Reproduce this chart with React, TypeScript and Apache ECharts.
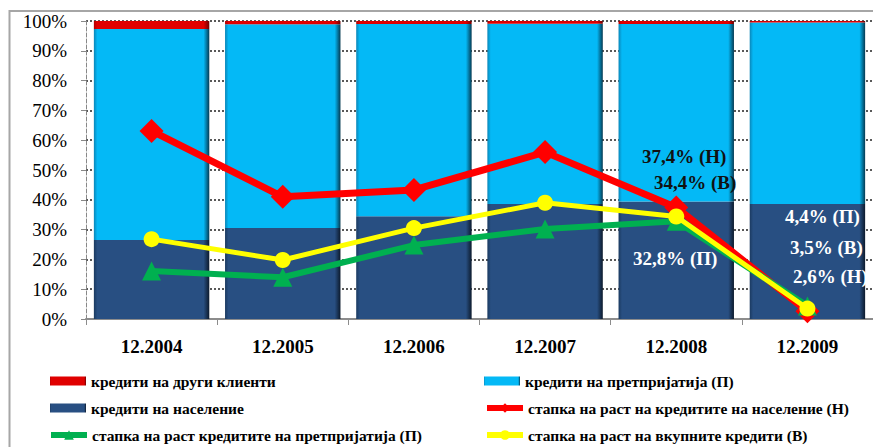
import React, { useEffect, useRef } from "react";
import * as echarts from "echarts";

const categories = ["12.2004", "12.2005", "12.2006", "12.2007", "12.2008", "12.2009"];
const householdShare = [26.5, 30.5, 34.5, 38.6, 39.4, 38.6];
const enterpriseShare = [70.8, 68.4, 64.5, 60.5, 59.6, 60.9];
const otherShare = [2.7, 1.1, 1.0, 0.9, 1.0, 0.5];
const householdGrowth = [63.1, 41.0, 43.3, 56.0, 37.4, 2.6];
const enterpriseGrowth = [16.1, 14.0, 24.8, 30.2, 32.8, 4.4];
const totalGrowth = [26.8, 19.8, 30.5, 39.0, 34.4, 3.5];
const yTicks = [0, 10, 20, 30, 40, 50, 60, 70, 80, 90, 100];

const names = {
  other: "кредити на други клиенти",
  ent: "кредити на претпријатија (П)",
  hh: "кредити на население",
  hhG: "стапка на раст на кредитите на население (Н)",
  entG: "стапка на раст кредитите на претпријатија (П)",
  totG: "стапка на раст на вкупните кредити (В)",
};

const annotations = [
  { text: "37,4% (Н)", x: 642, y: 156, fill: "#111" },
  { text: "34,4% (В)", x: 654, y: 182, fill: "#111" },
  { text: "32,8% (П)", x: 633, y: 258, fill: "#fff" },
  { text: "4,4% (П)", x: 785, y: 216, fill: "#fff" },
  { text: "3,5% (В)", x: 790, y: 247, fill: "#fff" },
  { text: "2,6% (Н)", x: 793, y: 276, fill: "#fff" },
];

const serif = "'Liberation Serif', 'Times New Roman', serif";

function grad(edge: string, main: string, dark: string) {
  return new echarts.graphic.LinearGradient(0, 0, 1, 0, [
    { offset: 0, color: edge },
    { offset: 0.03, color: main },
    { offset: 0.95, color: main },
    { offset: 1, color: dark },
  ]);
}

export default function App() {
  const ref = useRef<HTMLDivElement>(null);
  useEffect(() => {
    if (!ref.current) return;
    const chart = echarts.init(ref.current, null, { renderer: "svg" });
    const legendText = { fontFamily: serif, fontWeight: "bold" as const, fontSize: 15.5, color: "#000" };
    const legendBase = { padding: 0, itemWidth: 36, itemHeight: 9, itemGap: 0, textStyle: legendText, selectedMode: false };
    const lineLegend = { ...legendBase, itemHeight: 12, lineStyle: { width: 6 } };
    chart.setOption({
      animation: false,
      backgroundColor: "#fff",
      grid: { left: 86, top: 21, right: -12, bottom: 128, containLabel: false },
      xAxis: {
        type: "category",
        data: categories,
        axisLine: { lineStyle: { color: "#8c8c8c", width: 2 } },
        axisTick: { show: true, length: 6, lineStyle: { color: "#8c8c8c" } },
        axisLabel: { fontFamily: serif, fontWeight: "bold", fontSize: 19, color: "#000", margin: 18 },
      },
      yAxis: {
        type: "value",
        min: 0,
        max: 100,
        interval: 10,
        axisLine: { show: true, lineStyle: { color: "#888", type: "dashed" } },
        axisTick: { show: true, length: 5, lineStyle: { color: "#888" } },
        axisLabel: {
          fontFamily: serif,
          fontSize: 19,
          color: "#000",
          margin: 19,
          formatter: (v: number) => (yTicks.includes(v) ? v + "%" : ""),
        },
        splitLine: { show: true, lineStyle: { color: "#222", type: [2, 2], width: 1.5 } },
      },
      legend: [
        { ...legendBase, left: 50, top: 373, data: [{ name: names.other, icon: "rect" }] },
        { ...legendBase, left: 50, top: 400, data: [{ name: names.hh, icon: "rect" }] },
        { ...lineLegend, left: 48, top: 427, data: [names.entG] },
        { ...legendBase, left: 484, top: 373, data: [{ name: names.ent, icon: "rect" }] },
        { ...lineLegend, left: 484, top: 400, data: [names.hhG] },
        { ...lineLegend, left: 484, top: 427, data: [names.totG] },
      ],
      series: [
        {
          name: names.hh,
          type: "bar",
          stack: "s",
          barCategoryGap: "12%",
          data: householdShare,
          itemStyle: { color: grad("#1b3a60", "#284f82", "#0c1a2c") },
        },
        {
          name: names.ent,
          type: "bar",
          stack: "s",
          data: enterpriseShare,
          itemStyle: { color: grad("#0a86b8", "#04b9f6", "#053a52") },
        },
        {
          name: names.other,
          type: "bar",
          stack: "s",
          data: otherShare,
          itemStyle: { color: grad("#b30000", "#e00000", "#700000") },
        },
        {
          name: names.hhG,
          type: "line",
          data: householdGrowth,
          lineStyle: { color: "#ff0000", width: 7 },
          itemStyle: { color: "#ff0000" },
          symbol: "diamond",
          symbolSize: 24,
          z: 3,
        },
        {
          name: names.entG,
          type: "line",
          data: enterpriseGrowth,
          lineStyle: { color: "#00b050", width: 6 },
          itemStyle: { color: "#00b050" },
          symbol: "triangle",
          symbolSize: 19,
          z: 4,
        },
        {
          name: names.totG,
          type: "line",
          data: totalGrowth,
          lineStyle: { color: "#ffff00", width: 5 },
          itemStyle: { color: "#ffff00" },
          symbol: "circle",
          symbolSize: 16,
          z: 5,
        },
      ],
      graphic: [
        {
          type: "rect",
          shape: { x: 9.5, y: 11, width: 900, height: 500 },
          style: { fill: "none", stroke: "#a6a6a6", lineWidth: 2 },
          silent: true,
          z: -10,
        },
        ...annotations.map((a) => ({
          type: "text",
          x: a.x,
          y: a.y,
          z: 100,
          style: {
            text: a.text,
            fill: a.fill,
            font: `bold 19px ${serif}`,
            align: "left",
            verticalAlign: "middle",
          },
        })),
      ],
    });
    return () => chart.dispose();
  }, []);
  return <div ref={ref} style={{ position: "absolute", left: 0, top: 0, width: 873, height: 447 }} />;
}
